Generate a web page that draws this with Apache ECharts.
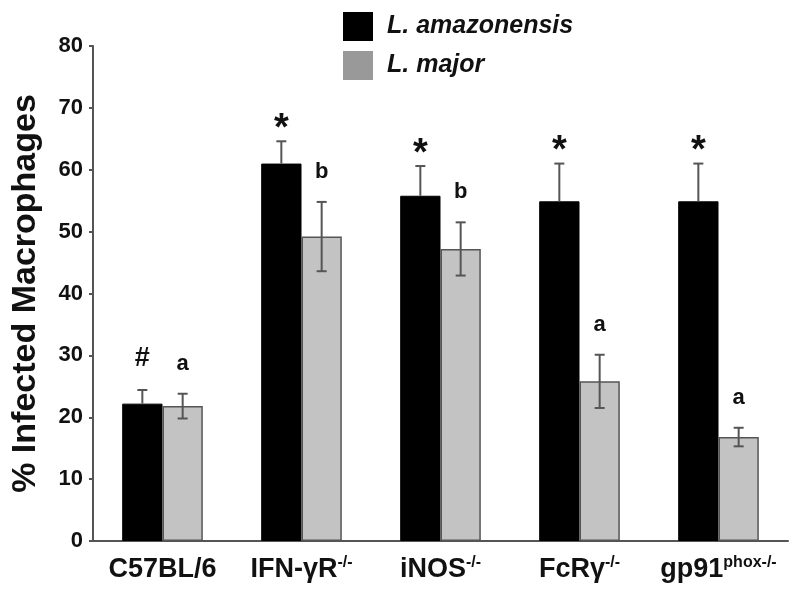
<!DOCTYPE html>
<html>
<head>
<meta charset="utf-8">
<script src="https://cdn.jsdelivr.net/npm/echarts@6/dist/echarts.min.js"></script>
<style>html,body{margin:0;padding:0;background:#fff;}#c{width:797px;height:595px;}</style>
</head>
<body>
<div id="c"></div>
<script>
const categories = ['C57BL/6', 'IFN-γR-/-', 'iNOS-/-', 'FcRγ-/-', 'gp91phox-/-'];
const labelBases = ['C57BL/6', 'IFN-γR', 'iNOS', 'FcRγ', 'gp91'];
const labelSupers = ['', '-/-', '-/-', '-/-', 'phox-/-'];
const amazonensis = [22.2, 61.0, 55.8, 54.9, 54.9];
const amazonensisErr = [2.2, 3.6, 4.8, 6.1, 6.1];
const major = [21.8, 49.2, 47.2, 25.8, 16.8];
const majorErr = [2.0, 5.6, 4.3, 4.3, 1.5];
const amazonensisMarks = ['#', '*', '*', '*', '*'];
const majorMarks = ['a', 'b', 'b', 'a', 'a'];
const yTicks = [0, 10, 20, 30, 40, 50, 60, 70, 80];

const FONT = 'Liberation Sans, Arial, sans-serif';
const chart = echarts.init(document.getElementById('c'));

function errRender(side, full, marks, errs, vals) {
  return function (params, api) {
    const i = params.dataIndex;
    const v = vals[i], e = errs[i];
    const catW = api.size([1, 0])[0];
    const bw = catW * 0.29;
    const cx = api.coord([i, 0])[0] + side * bw / 2;
    const top = api.coord([i, v + e])[1];
    const bot = api.coord([i, full ? v - e : v])[1];
    const ls = { stroke: '#555', lineWidth: 2 };
    const children = [
      { type: 'line', shape: { x1: cx, y1: top, x2: cx, y2: bot }, style: ls },
      { type: 'line', shape: { x1: cx - 5, y1: top, x2: cx + 5, y2: top }, style: ls }
    ];
    if (full) children.push({ type: 'line', shape: { x1: cx - 5, y1: bot, x2: cx + 5, y2: bot }, style: ls });
    const m = marks[i];
    let fs = 22, off = 30;
    if (m === '*') { fs = 38; off = 12; }
    if (m === '#') { fs = 27; off = 31; }
    children.push({
      type: 'text',
      style: { text: m, x: cx, y: top - off, align: 'center', verticalAlign: 'middle',
        fontFamily: FONT, fontWeight: 'bold', fontSize: fs, fill: '#111' }
    });
    return { type: 'group', children: children };
  };
}

const option = {
  animation: false,
  backgroundColor: '#fff',
  grid: { left: 93, right: 9, top: 46, bottom: 54 },
  legend: {
    orient: 'vertical', left: 338, top: 7, itemWidth: 30, itemHeight: 29, itemGap: 10,
    icon: 'rect',
    textStyle: { fontFamily: FONT, fontWeight: 'bold', fontStyle: 'italic', fontSize: 25, color: '#111', padding: [0, 0, 0, 9] },
    data: [
      { name: 'L. amazonensis', itemStyle: { color: '#000', borderWidth: 0 } },
      { name: 'L. major', itemStyle: { color: '#999', borderWidth: 0 } }
    ]
  },
  xAxis: {
    type: 'category', data: categories,
    axisLine: { lineStyle: { color: '#555', width: 2 } },
    axisTick: { show: false },
    axisLabel: {
      margin: 14,
      formatter: function (val, idx) {
        const s = labelSupers[idx];
        return '{b|' + labelBases[idx] + '}' + (s ? '{s|' + s + '}' : '');
      },
      rich: {
        b: { fontFamily: FONT, fontWeight: 'bold', fontSize: 27, color: '#111', lineHeight: 30 },
        s: { fontFamily: FONT, fontWeight: 'bold', fontSize: 16, color: '#111', verticalAlign: 'top', lineHeight: 18 }
      }
    }
  },
  yAxis: {
    type: 'value', min: 0, max: 80, interval: 10,
    name: '% Infected Macrophages', nameLocation: 'middle', nameGap: 50, nameRotate: 90,
    nameTextStyle: { fontFamily: FONT, fontWeight: 'bold', fontSize: 34, color: '#111' },
    axisLine: { show: true, lineStyle: { color: '#555', width: 2 } },
    axisTick: { show: true, length: 4, lineStyle: { color: '#555', width: 2 } },
    splitLine: { show: false },
    axisLabel: {
      margin: 10, fontFamily: FONT, fontWeight: 'bold', fontSize: 22, color: '#111',
      formatter: function (v) { return yTicks.indexOf(v) >= 0 ? String(v) : ''; }
    }
  },
  series: [
    { name: 'L. amazonensis', type: 'bar', data: amazonensis, barWidth: '29%', barGap: '0%',
      itemStyle: { color: '#000', borderColor: '#000', borderWidth: 1 } },
    { name: 'L. major', type: 'bar', data: major, barWidth: '29%', barGap: '0%',
      itemStyle: { color: '#c3c3c3', borderColor: '#555', borderWidth: 1.5 } },
    { type: 'custom', data: amazonensis.map((v, i) => [i, v]), z: 5,
      renderItem: errRender(-1, false, amazonensisMarks, amazonensisErr, amazonensis) },
    { type: 'custom', data: major.map((v, i) => [i, v]), z: 5,
      renderItem: errRender(1, true, majorMarks, majorErr, major) }
  ]
};
chart.setOption(option);
</script>
</body>
</html>
